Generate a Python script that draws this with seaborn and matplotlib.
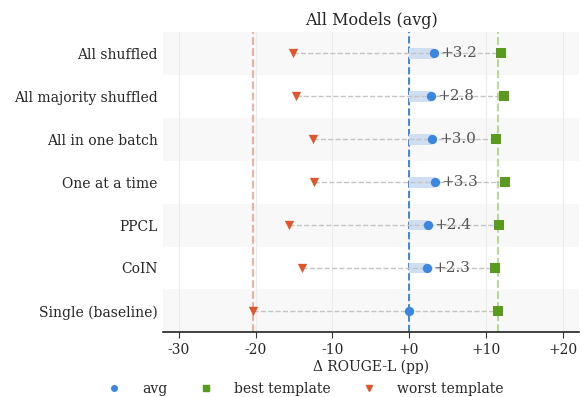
import matplotlib
matplotlib.use("Agg")
import matplotlib.pyplot as plt
from matplotlib.lines import Line2D
import seaborn as sns
import pandas as pd

# data
methods = ["All shuffled", "All majority shuffled", "All in one batch",
           "One at a time", "PPCL", "CoIN", "Single (baseline)"]
avg = [3.2, 2.8, 3.0, 3.3, 2.4, 2.3, 0.0]
best = [11.9, 12.4, 11.3, 12.5, 11.7, 11.2, 11.6]
worst = [-15.1, -14.7, -12.5, -12.4, -15.7, -14.0, -20.3]

df = pd.DataFrame({"method": methods, "avg": avg, "best": best, "worst": worst})

sns.set_style("white")
plt.rcParams["font.family"] = ["DejaVu Serif"]

c_avg = "#3b87e0"
c_best = "#5a9a1e"
c_worst = "#e0562b"

fig = plt.figure(figsize=(5.83, 3.97), dpi=100)
ax = fig.add_axes([163.3 / 583, 1 - 332.3 / 397, (579 - 163.3) / 583, (332.3 - 32) / 397])

# alternating row bands
for i in range(len(methods)):
    if i % 2 == 0:
        ax.axhspan(i - 0.5, i + 0.5, color="#f8f8f8", zorder=0, lw=0)

for v in [-30, -20, -10, 0, 10, 20]:
    ax.axvline(v, color="#ececec", lw=0.8, zorder=0.5)

# reference lines: baseline worst / best, zero
base = df.iloc[-1]
ax.axvline(base["worst"], color=c_worst, alpha=0.45, ls="--", lw=1.5, zorder=1)
ax.axvline(base["best"], color="#8cc152", alpha=0.6, ls="--", lw=1.5, zorder=1)
ax.axvline(0, color=c_avg, ls="--", lw=1.4, zorder=1)

# light bars from 0 to avg
sns.barplot(data=df, x="avg", y="method", orient="h", width=0.25,
            color="#c9ddf5", ax=ax, zorder=2, linewidth=0)

for i, r in df.iterrows():
    ax.plot([r["worst"], r["best"]], [i, i], color="#c4c4c4", ls="--", lw=1, zorder=2.5)

sns.scatterplot(data=df, x="worst", y="method", marker="v", color=c_worst,
                s=45, ax=ax, zorder=4, linewidth=0)
sns.scatterplot(data=df, x="best", y="method", marker="s", color=c_best,
                s=45, ax=ax, zorder=4, linewidth=0)
sns.scatterplot(data=df, x="avg", y="method", marker="o", color=c_avg,
                s=45, ax=ax, zorder=5, linewidth=0)

for i, r in df.iterrows():
    if r["avg"] != 0:
        ax.annotate(f"+{r['avg']:.1f}", (r["avg"], i), xytext=(5, 0),
                    textcoords="offset points", va="center", ha="left",
                    fontsize=11, color="#555555", zorder=6)

ax.set_xlim(-32, 22.1)
ax.set_ylim(6.5, -0.5)
ax.set_xticks([-30, -20, -10, 0, 10, 20])
ax.set_xticklabels(["-30", "-20", "-10", "+0", "+10", "+20"], fontsize=10)
ax.tick_params(axis="y", labelsize=10, length=0, pad=4)
ax.tick_params(axis="x", length=4, width=0.8, color="#333333", bottom=True)
ax.set_ylabel("")
ax.set_xlabel("Δ ROUGE-L (pp)", fontsize=10, labelpad=2)
ax.set_title("All Models (avg)", fontsize=11.5, pad=5)
for s in ["top", "right", "left"]:
    ax.spines[s].set_visible(False)
ax.spines["bottom"].set_color("#222222")
ax.spines["bottom"].set_linewidth(1.2)

handles = [
    Line2D([], [], marker="o", ls="", color=c_avg, ms=4),
    Line2D([], [], marker="s", ls="", color=c_best, ms=4),
    Line2D([], [], marker="v", ls="", color=c_worst, ms=4),
]
fig.legend(handles, ["avg", "best template", "worst template"], loc="center",
           bbox_to_anchor=(0.518, 1 - 389 / 397), ncol=3, frameon=False,
           fontsize=10, handletextpad=1.0, columnspacing=1.8)

fig.savefig("out.png", dpi=100)
